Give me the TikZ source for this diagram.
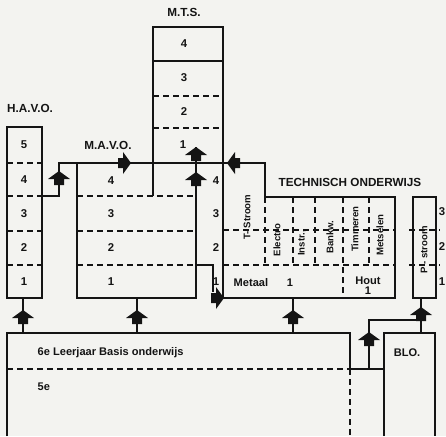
\documentclass[tikz,border=0pt]{standalone}
\usepackage{fontspec}
\setmainfont{Liberation Sans}
\definecolor{paper}{RGB}{243,243,240}
\definecolor{ink}{RGB}{20,20,20}
\tikzset{
  lbl/.style={font=\bfseries\fontsize{8.8}{10}\selectfont, inner sep=0pt, text=ink},
  txt/.style={font=\bfseries\fontsize{8.3}{9}\selectfont, inner sep=0pt, text=ink},
  num/.style={font=\bfseries\fontsize{8.5}{9}\selectfont, inner sep=0pt, text=ink},
  vt/.style={font=\bfseries\fontsize{7.2}{8}\selectfont, rotate=90, inner sep=0pt, text=ink},
  dsh/.style={dash pattern=on 4.5pt off 3pt},
  uparr/.pic={\fill[ink] (0,0) -- (11,8) -- (5,8) -- (5,14) -- (-5,14) -- (-5,8) -- (-11,8) -- cycle;},
  rtarr/.pic={\fill[ink] (0,0) -- (-8,-11) -- (-8,-5) -- (-13,-5) -- (-13,5) -- (-8,5) -- (-8,11) -- cycle;},
  ltarr/.pic={\fill[ink] (0,0) -- (8,-11) -- (8,-5) -- (13,-5) -- (13,5) -- (8,5) -- (8,11) -- cycle;}
}
\begin{document}
\begin{tikzpicture}[x=0.75pt,y=-0.75pt, line width=1.1pt, draw=ink]
\fill[paper] (0,0) rectangle (446,436);
\useasboundingbox (0,0) rectangle (446,436);

% ---------- H.A.V.O.
\draw (7,127) rectangle (42,298);
\foreach \yy in {163,196,231,265} \draw[dsh] (7,\yy) -- (42,\yy);
\node[lbl] (havo) at (30,108) {H.A.V.O.};
\node[num] (h5) at (24,145) {5};
\node[num] (h4) at (24,180) {4};
\node[num] (h3) at (24,214) {3};
\node[num] (h2) at (24,248) {2};
\node[num] (h1) at (24,282) {1};

% ---------- connector HAVO -> MAVO, top line, TO outline, MTS
\draw (42,196) -- (59,196) -- (59,163) -- (265,163) -- (265,197) -- (395,197)
      -- (395,298) -- (223,298) -- (223,27) -- (153,27) -- (153,196);
\draw (153,61) -- (223,61);
\draw[dsh] (153,96) -- (223,96);
\draw[dsh] (153,128) -- (223,128);
\node[lbl] (mts) at (184,12) {M.T.S.};
\node[num] (m4) at (184,44) {4};
\node[num] (m3) at (184,78) {3};
\node[num] (m2) at (184,112) {2};
\node[num] (m1) at (183,145) {1};

% ---------- M.A.V.O.
\draw (77,163) -- (77,298) -- (196,298) -- (196,147);
\foreach \yy in {196,231,265} \draw[dsh] (77,\yy) -- (196,\yy);
\draw (196,265) -- (213,265) -- (213,292);
\node[lbl] (mavo) at (108,145) {M.A.V.O.};
\node[num] (v4) at (111,181) {4};
\node[num] (v3) at (111,214) {3};
\node[num] (v2) at (111,248) {2};
\node[num] (v1) at (111,282) {1};

% ---------- year numbers of T-stroom
\node[num] (t4) at (216,181) {4};
\node[num] (t3) at (216,214) {3};
\node[num] (t2) at (216,248) {2};
\node[num] (t1) at (216,282) {1};

% ---------- Technisch onderwijs interior
\draw[dsh] (223,230) -- (395,230);
\draw[dsh] (223,265) -- (395,265);
\draw[dsh] (265,197) -- (265,265);
\draw[dsh] (293,197) -- (293,265);
\draw[dsh] (315,197) -- (315,265);
\draw[dsh] (343,197) -- (343,298);
\draw[dsh] (369,197) -- (369,265);
\node[lbl] (techn) at (350,182) {TECHNISCH ONDERWIJS};
\node[vt] (tstr) at (247,217) {T- Stroom};
\node[vt] (elec) at (277,240) {Electro};
\node[vt] (instr) at (302,243) {Instr.,};
\node[vt] (bank) at (330,237) {Bankw.};
\node[vt] (timm) at (355,229) {Timmeren};
\node[vt] (mets) at (380,235) {Metselen};
\node[txt, anchor=west] (metaal) at (233,283) {Metaal};
\node[txt] (metaal1) at (290,283) {1};
\node[txt] (hout) at (368,281) {Hout};
\node[txt] (hout1) at (368,291) {1};

% ---------- P-stroom
\draw (413,197) rectangle (436,298);
\draw[dsh] (409,230) -- (440,230);
\draw[dsh] (409,265) -- (440,265);
\node[vt] (pstr) at (424,250) {P - stroom};
\node[num] (p3) at (442,212) {3};
\node[num] (p2) at (442,247) {2};
\node[num] (p1) at (442,282) {1};

% ---------- Basis onderwijs
\draw (7,436) -- (7,333) -- (350,333) -- (350,369);
\draw[dsh] (7,369) -- (350,369);
\draw[dsh] (350,369) -- (350,436);
\node[txt, anchor=west] (basis) at (37,353) {6e Leerjaar Basis onderwijs};
\node[txt, anchor=west] (vijf) at (37,387) {5e};

% ---------- BLO
\draw (384,436) -- (384,333) -- (435,333) -- (435,436);
\node[txt] (blo) at (407,353) {BLO.};
\draw (350,369) -- (384,369);
\draw (369,369) -- (369,320) -- (421,320);
\draw (421,333) -- (421,298);

% ---------- vertical connectors from basis
\draw (23,333) -- (23,298);
\draw (137,333) -- (137,298);
\draw (293,333) -- (293,298);

% ---------- fat arrowheads
\pic at (23,310) {uparr};
\pic at (137,310) {uparr};
\pic at (293,310) {uparr};
\pic at (369,332) {uparr};
\pic at (421,307) {uparr};
\pic at (59,171) {uparr};
\pic at (196,147) {uparr};
\pic at (196,172) {uparr};
\pic at (131,163) {rtarr};
\pic at (227,163) {ltarr};
\pic at (224,298) {rtarr};
\end{tikzpicture}
\end{document}
